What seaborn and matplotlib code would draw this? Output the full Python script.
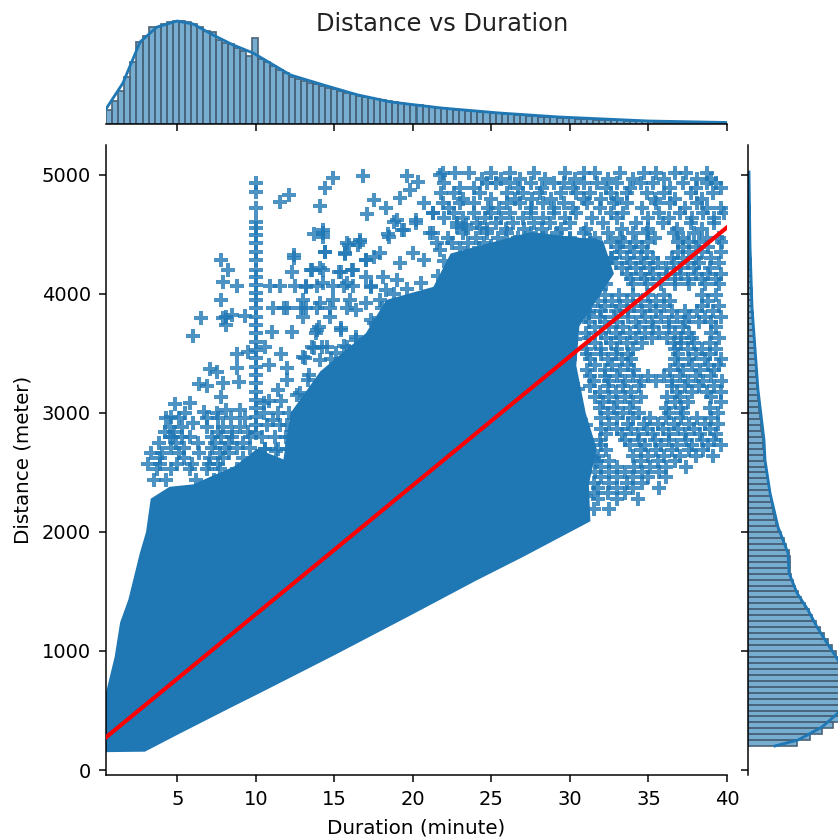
import numpy as np
import seaborn as sns
import matplotlib
matplotlib.use("Agg")
import matplotlib.pyplot as plt

# dense body of the cloud, outline (duration, distance)
body_duration = [0.45, 1.0, 1.35, 1.87, 2.19, 2.6, 3.0, 3.3, 4.5, 6.0, 7.2, 8.6, 9.62, 10.05, 11.75, 12.2, 14.1, 17.0, 18.3,
                 21.3, 22.4, 25.5, 27.5, 32.1, 32.8, 31.7, 30.6, 30.4, 31.0, 31.7, 31.2, 31.3,
                 27.0, 24.0, 20.0, 15.0, 10.26, 8.35, 4.97, 2.93, 0.45]
body_distance = [650, 950, 1240, 1430, 1600, 1820, 2000, 2280, 2380, 2400, 2470, 2550, 2650, 2700, 2610, 3000, 3350, 3670, 3950,
                 4060, 4340, 4450, 4520, 4450, 4170, 3950, 3730, 3400, 3000, 2700, 2400, 2090,
                 1790, 1590, 1310, 965, 647, 521, 294, 154, 150]

# points along the rim of the body
rim_duration = [12.6, 13.3, 14.8, 15.6, 16.4, 17.5, 18.0, 18.8, 19.6, 20.5, 21.6, 22.0, 23.0, 24.2, 25.0, 26.5,
                28.5, 30.0, 31.3, 32.6, 32.3, 31.2, 30.3, 30.0, 30.5, 31.0, 31.5, 31.0, 30.6,
                10.6, 11.3, 12.2, 12.7]
rim_distance = [3150, 3280, 3450, 3560, 3640, 3760, 3880, 4000, 4040, 4090, 4150, 4280, 4390, 4390, 4400, 4440,
                4470, 4460, 4450, 4300, 4080, 3840, 3620, 3450, 3200, 2900, 2620, 2300, 2110,
                2700, 2680, 2800, 2950]

# trips sitting on the 10 minute mark
spike_distance = [4930, 4860, 4720, 4608, 4552, 4496, 4426, 4356, 4286, 4202, 4146, 4076, 4006, 3950, 3880,
                  3810, 3740, 3670, 3600, 3530, 3460, 3390, 3320, 3250, 3180, 3110, 3040, 2970, 2900, 2830]

# loose points upper left of the body
loose_duration = [6.0, 6.5, 7.8, 7.9, 8.8, 8.2, 7.8, 8.1, 7.9, 8.5, 8.1, 9.3, 11.5, 12.1, 14.1, 14.4, 14.9, 16.8,
                  19.6, 20.3, 19.8, 19.2, 17.5, 18.3, 17.1, 13.7, 14.3, 14.3, 14.4, 12.4, 12.4, 12.3, 13.5, 14.1,
                  15.4, 16.1, 16.6, 15.8, 15.7, 16.5, 17.0, 17.5, 18.8, 18.4, 19.3, 20.2, 20.7, 21.3, 21.7,
                  10.9, 11.5, 12.5, 13.2, 13.9, 14.9, 15.6, 16.2, 17.3,
                  11.1, 11.8, 12.0, 12.9, 13.2, 13.9, 14.7, 15.8,
                  11.0, 12.3, 13.8, 14.0, 15.4, 11.6, 13.1, 13.7, 14.2, 10.8, 12.0, 11.4, 12.0, 8.8, 9.5, 10.6,
                  8.8, 7.1, 7.5, 6.4, 6.9, 7.9, 7.8, 8.9, 4.85, 5.8, 4.6, 5.5, 4.5, 5.3, 6.0, 6.7, 7.5, 8.1, 9.0,
                  4.7, 5.8, 6.9, 7.9, 9.0, 10.5, 11.1, 12.8,
                  14.3, 14.4, 15.9, 16.6, 15.7, 17.0, 17.9, 18.5, 19.4, 20.2, 19.0, 21.3, 22.8, 23.4, 24.3,
                  19.2, 20.0, 20.7, 21.7, 13.6, 14.3, 15.3, 16.2, 17.0, 18.1, 19.0, 13.2, 14.3, 15.8, 17.3, 18.3,
                  13.0, 14.1, 14.9, 16.0, 17.0, 17.9, 14.7, 16.4, 17.3, 13.0, 13.9, 15.4, 13.6, 14.5, 13.0, 14.1,
                  15.1, 16.4, 16.6, 15.8, 13.4, 21.5, 22.5, 23.5, 24.5]
loose_distance = [3648, 3796, 3950, 4104, 4068, 4202, 4286, 3810, 3796, 3824, 3740, 3816, 4776, 4832, 4740, 4888, 4972, 4994,
                  4994, 4944, 4874, 4810, 4790, 4726, 4672, 4504, 4538, 4482, 4356, 4328, 4300, 4188, 4202, 4216,
                  4188, 4202, 4454, 4426, 4334, 4412, 4286, 4314, 4608, 4504, 4538, 4622, 4762, 4678, 5000,
                  4068, 4068, 4068, 4068, 4068, 4068, 4068, 4068, 4068,
                  3880, 3880, 3880, 3880, 3880, 3880, 3880, 3880,
                  3684, 3678, 3670, 3726, 3712, 3494, 3460, 3544, 3558, 3404, 3376, 3194, 3278, 3496, 3516, 3558,
                  3376, 3368, 3348, 3244, 3228, 3250, 3138, 3264, 3076, 3082, 2970, 3000, 2886, 2886, 2914, 3012, 3000, 3026, 3026,
                  2802, 2802, 2886, 2886, 2886, 3082, 2942, 3166,
                  4510, 4356, 4412, 4440, 4342, 4286, 4342, 4482, 4538, 4594, 4622, 4510, 4566, 4580, 4552,
                  4258, 4342, 4286, 4370, 4202, 4202, 4188, 4202, 4146, 4146, 4118, 4062, 4090, 4090, 4062, 4034,
                  3950, 3922, 3950, 3950, 3922, 3950, 3810, 3866, 3782, 3810, 3698, 3698, 3558, 3558, 3474, 3446,
                  3502, 3614, 3530, 3558, 3320, 4426, 4426, 4426, 4426]

# rows of points, (distance, durations) read left to right
row_distance = [5014, 4930, 4846, 4762, 4678, 4594, 4510, 4440, 4350, 4260, 4170, 4080, 3990, 3900, 3810, 3720, 3630,
                3540, 3450, 3360, 3270, 3180, 3090, 3000, 2910, 2820, 2730, 2640, 2550, 2460, 2370, 2280, 2190,
                2800, 2710, 2620, 2530, 2440,
                3100, 3000, 2900, 2800, 2700,
                4970, 4890, 4800, 4720, 4640, 4550, 4470, 4395, 4305, 4215, 4125, 3945, 3855, 3765, 3675, 3585, 3495,
                3405, 3315, 3225, 3135, 3045, 2955, 2865, 2775, 2685, 2595, 2505, 2415, 2325, 2235,
                2960, 2840, 2750, 2660, 2575, 2485]
row_duration = [
    [21.9, 22.7, 23.6, 25.0, 26.2, 27.7, 29.7, 30.9, 31.6, 33.2, 34.7, 35.5, 36.7, 37.4, 38.7],
    [22.0, 24.7, 25.3, 26.2, 27.5, 29.0, 29.6, 30.9, 31.7, 33.0, 34.5, 35.3, 37.2, 38.7, 39.3],
    [21.8, 22.6, 24.3, 26.0, 27.0, 28.1, 29.4, 30.4, 31.3, 32.6, 33.6, 34.9, 36.0, 37.7, 39.1],
    [21.9, 23.0, 23.9, 26.0, 26.8, 28.3, 29.6, 31.1, 32.8, 33.6, 35.5, 36.4, 38.1],
    [21.3, 22.6, 23.9, 25.0, 26.2, 27.5, 29.0, 30.4, 32.6, 33.4, 35.7, 37.0, 38.5, 39.8],
    [22.8, 24.1, 25.3, 26.4, 27.7, 28.7, 30.0, 32.1, 34.2, 35.9, 37.7, 39.2],
    [21.1, 23.2, 24.7, 26.0, 27.5, 29.2, 30.9, 32.4, 34.0, 34.9, 36.6, 37.9],
    [32.6, 33.4, 34.2, 35.0, 36.9, 37.6, 38.2, 39.7],
    [33.2, 34.1, 34.9, 36.9, 37.6, 38.4, 39.6],
    [32.9, 33.8, 34.7, 35.6, 36.6, 37.5, 38.2, 39.5],
    [33.6, 34.5, 35.3, 36.2, 37.1, 38.0, 38.8, 39.6],
    [34.0, 34.9, 35.8, 36.7, 37.6, 38.6, 39.5],
    [32.2, 33.1, 34.0, 35.0, 36.0, 38.4, 39.3],
    [31.3, 32.2, 33.2, 34.1, 35.1, 36.0, 38.4, 39.5],
    [31.0, 31.9, 32.8, 33.7, 34.8, 35.8, 36.8, 37.6, 38.6, 39.6],
    [31.6, 32.5, 33.4, 34.4, 35.3, 36.3, 37.2, 39.3],
    [31.2, 32.3, 33.2, 34.2, 35.2, 36.2, 37.1, 37.8, 39.5],
    [31.0, 32.0, 33.0, 34.0, 36.7, 37.5, 38.4, 39.3],
    [31.3, 32.4, 33.3, 33.9, 36.7, 37.6, 38.6, 39.6],
    [31.1, 32.2, 33.2, 34.1, 36.4, 37.2, 38.3, 39.2],
    [31.5, 32.5, 33.5, 34.5, 35.5, 36.5, 37.5, 38.5, 39.7],
    [31.9, 32.9, 33.9, 36.8, 37.8, 38.7, 39.6],
    [32.1, 33.0, 34.0, 36.7, 37.5, 39.6],
    [32.4, 33.4, 34.4, 36.3, 37.2, 39.4],
    [32.5, 33.7, 34.7, 35.6, 36.6, 37.6, 38.6, 39.4],
    [32.3, 33.3, 34.3, 35.3, 36.3, 37.3, 38.3, 39.3],
    [32.0, 33.8, 34.8, 35.8, 36.8, 37.8, 38.8, 39.6],
    [31.8, 34.0, 35.0, 36.0, 37.0, 38.0, 39.1],
    [32.0, 33.0, 34.1, 35.1, 36.1, 37.4],
    [32.0, 33.0, 34.0, 35.0, 36.1],
    [31.8, 33.0, 34.0, 35.7],
    [31.8, 33.0, 34.3],
    [31.5, 32.5],
    [4.5, 5.3, 7.2, 7.8, 8.5, 9.6],
    [4.6, 5.4, 7.2, 8.0, 8.8, 9.6],
    [3.9, 5.4, 7.1, 7.9, 9.2],
    [3.7, 4.6, 5.8, 6.9, 7.7, 8.8],
    [3.5, 4.3, 6.2, 7.3, 8.6, 9.6],
    [10.8, 11.6],
    [10.5, 11.4, 12.1],
    [10.7, 11.5, 12.0],
    [10.4, 11.2, 11.9],
    [10.6, 11.4, 12.0],
    # second pass, the same areas between the rows above
    [24.4, 25.6, 26.8, 28.4, 30.3, 32.4, 34.0, 36.0, 38.1, 39.0],
    [23.0, 23.9, 26.7, 28.2, 30.2, 32.3, 33.8, 36.4, 38.0, 39.6],
    [23.2, 25.0, 26.5, 27.6, 28.8, 30.9, 32.0, 33.0, 35.4, 36.7, 38.4],
    [22.3, 24.8, 25.5, 27.5, 29.0, 30.2, 31.9, 34.6, 37.3, 38.7, 39.6],
    [22.0, 23.2, 24.6, 25.6, 27.0, 28.3, 29.7, 31.4, 33.0, 35.0, 36.3, 37.8, 39.2],
    [23.4, 24.7, 25.9, 27.1, 28.2, 29.4, 31.0, 33.3, 35.0, 36.8, 38.4],
    [22.2, 24.0, 25.4, 26.7, 28.3, 30.0, 31.6, 33.2, 35.4, 37.2, 38.7, 39.5],
    [33.0, 33.8, 34.6, 37.2, 38.0, 38.8],
    [32.7, 33.6, 34.5, 35.3, 36.5, 37.2, 38.0, 39.0],
    [33.3, 34.2, 35.1, 36.1, 37.0, 37.9, 38.9],
    [33.9, 34.8, 35.7, 36.7, 37.5, 38.4, 39.3],
    [31.8, 32.7, 33.6, 34.5, 35.5, 36.4, 38.8],
    [31.2, 32.0, 32.9, 33.7, 34.6, 35.5, 36.5, 37.3, 38.1, 39.1],
    [31.2, 32.2, 33.0, 34.2, 35.2, 36.3, 37.3, 38.2, 39.0],
    [31.0, 32.0, 32.9, 33.8, 34.8, 35.7, 36.7, 37.6, 39.0],
    [31.6, 32.6, 33.6, 34.6, 36.6, 37.1, 37.9, 38.9],
    [31.1, 32.0, 32.9, 33.7, 36.9, 38.0, 38.9],
    [31.6, 32.7, 33.7, 36.9, 37.8, 38.8, 39.5],
    [31.3, 32.2, 33.0, 34.0, 35.0, 36.0, 37.0, 38.0, 39.0],
    [31.3, 32.4, 33.4, 34.4, 36.5, 37.3, 38.2, 39.2],
    [31.6, 32.5, 33.5, 34.5, 36.2, 37.0, 39.0],
    [31.9, 32.8, 33.8, 36.1, 37.1, 38.9],
    [32.0, 33.0, 34.0, 35.1, 36.1, 37.1, 38.1, 39.0],
    [32.0, 33.0, 33.9, 34.9, 35.9, 36.9, 37.9, 38.9],
    [31.9, 33.5, 34.4, 35.4, 36.3, 37.4, 38.4, 39.2],
    [32.3, 34.5, 35.5, 36.5, 37.6, 38.5],
    [31.7, 32.5, 34.5, 35.6, 36.7],
    [31.6, 32.5, 33.5, 34.6, 35.7],
    [31.5, 32.5, 33.6, 34.6],
    [31.5, 32.4, 33.5],
    [4.9, 6.0, 7.0, 8.0, 9.2],
    [4.3, 5.1, 6.9, 7.6, 8.4, 9.3],
    [4.2, 4.8, 7.6, 8.5, 9.5],
    [3.8, 4.9, 6.3, 7.4, 8.3, 9.2],
    [3.3, 4.0, 5.1, 6.4, 7.7, 8.3],
    [3.1, 3.9, 5.0, 5.9, 7.0, 7.6],
]

# fit line
fit_duration = [0.45, 40]
fit_distance = [275, 4560]

# marginal of duration, relative heights
duration_counts = [14, 23, 33, 47, 62, 82, 88, 97, 97, 100,
                   102, 103, 103, 102, 100, 97, 93, 92, 84, 81,
                   80, 76, 73, 68, 86, 65, 62, 58, 54, 51,
                   47, 45, 43, 41, 40, 38, 36, 35, 33, 31,
                   30, 28, 27, 26, 25, 24, 23, 22, 21, 20,
                   19.5, 19, 18, 17, 16.5, 16, 15, 14.5, 14, 13.5,
                   13, 12.5, 12, 11.5, 11, 10.5, 10, 9.5, 9, 8.5,
                   8, 7.5, 7, 6.8, 6.5, 6, 5.7, 5.4, 5.1, 4.8,
                   4.5, 4.3, 4.1, 3.9, 3.7, 3.5, 3.3, 3.1, 2.9, 2.7,
                   2.5, 2.4, 2.3, 2.2, 2.1, 2, 1.9, 1.8, 1.7, 1.6,
                   1.5, 1.5]
duration_kde_x = [0.45, 1.53, 2.62, 3.70, 4.98, 6.0, 7.27, 8.55, 9.82, 10.9, 12.2, 14.3, 16.5, 18.6, 21.8, 25.5, 29.3, 35, 40]
duration_kde_y = [15, 41, 82, 97, 103, 100, 89, 79, 71, 61, 49, 39, 29, 22, 16, 11, 7, 3, 1.5]

# marginal of distance, 50 m bins from 200 to 5000
distance_counts = [49, 62, 74, 85, 92, 97, 101, 104, 105, 106,
                   105, 103, 100, 96, 92, 88, 84, 80, 76, 72,
                   68, 64, 61, 57, 53, 50, 47, 45, 43, 42,
                   42, 42, 41, 38, 36, 33, 30, 28, 26, 25,
                   24, 23, 22, 21, 20, 19, 18, 17, 16, 16,
                   15, 15, 14, 13, 13, 12, 11, 11, 10, 10,
                   9, 9, 8, 8, 8, 7, 7, 7, 6, 6,
                   5, 5, 5, 4, 4, 4, 4, 3, 3, 3,
                   3, 3, 2, 2, 2, 2, 2, 2, 2, 1.5,
                   1.5, 1, 1, 1, 1, 1]
distance_kde_y = [202, 252, 361, 479, 672, 924, 1067, 1202, 1345, 1487, 1655, 1823, 2042, 2328, 2605, 2773, 3193, 3890, 4400, 5025]
distance_kde_x = [27, 50, 74, 90, 103, 90, 79, 69, 60, 49, 41, 40, 30, 22, 17, 16, 10, 4, 2, 1]

xticks = [5, 10, 15, 20, 25, 30, 35, 40]
yticks = [0, 1000, 2000, 3000, 4000, 5000]

BLUE = "#1f77b4"
W, H, DPI = 838, 839, 135

# collect all loose points
point_x = list(loose_duration) + list(rim_duration) + [10.0] * len(spike_distance)
point_y = list(loose_distance) + list(rim_distance) + list(spike_distance)
for dist, row in zip(row_distance, row_duration):
    point_x += row
    point_y += [dist] * len(row)

g = sns.JointGrid(height=6.2)
fig = g.figure
fig.set_size_inches(W / DPI, H / DPI)
fig.set_dpi(DPI)
ax, top, right = g.ax_joint, g.ax_marg_x, g.ax_marg_y
ax.set_position([106 / W, (H - 775) / H, 621 / W, 630 / H])
top.set_position([106 / W, (H - 124) / H, 621 / W, 106 / H])
right.set_position([748 / W, (H - 775) / H, 90 / W, 630 / H])

ax.fill(body_duration, body_distance, color=BLUE, lw=0, zorder=1)
sns.regplot(x=np.array(point_x), y=np.array(point_y), ax=ax, fit_reg=False, marker="P", color=BLUE,
            scatter_kws={"alpha": 0.8, "s": 62, "linewidths": 0, "zorder": 2})
sns.lineplot(x=fit_duration, y=fit_distance, ax=ax, color="red", lw=2.2, zorder=3)

hist_kws = dict(color=BLUE, alpha=0.6, linewidth=0.9, edgecolor="#4a6478")
edges = np.linspace(0.45, 40, len(duration_counts) + 1)
sns.histplot(x=(edges[:-1] + edges[1:]) / 2, weights=duration_counts, bins=list(edges), ax=top, **hist_kws)
sns.lineplot(x=duration_kde_x, y=duration_kde_y, ax=top, color=BLUE, lw=1.5)

edges = np.linspace(200, 5000, len(distance_counts) + 1)
sns.histplot(y=(edges[:-1] + edges[1:]) / 2, weights=distance_counts, bins=list(edges), ax=right, **hist_kws)
sns.lineplot(x=distance_kde_x, y=distance_kde_y, ax=right, color=BLUE, lw=1.5, sort=False, orient="y")

ax.set_xlim(0.45, 40)
ax.set_ylim(-42, 5252)
ax.set_xticks(xticks)
ax.set_yticks(yticks)
ax.tick_params(labelsize=10.4, pad=4.5)
ax.set_xlabel("Duration (minute)", fontsize=10.6, labelpad=5)
ax.set_ylabel("Distance (meter)", fontsize=10.6, labelpad=5)
top.set_ylim(0, 106)
right.set_xlim(0, 90)
top.set_ylabel("")
top.set_xlabel("")
right.set_xlabel("")
right.set_ylabel("")

fig.suptitle("Distance vs Duration", x=442 / W, y=(H - 24) / H, va="center", fontsize=12.9, color="#222222")
fig.savefig("out.png", dpi=DPI)
